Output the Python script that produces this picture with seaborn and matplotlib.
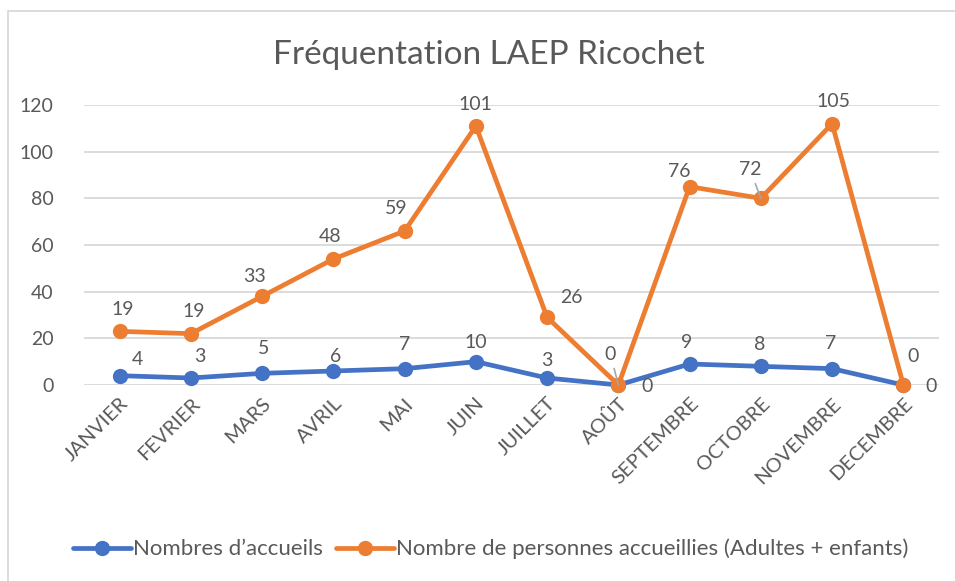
import matplotlib
matplotlib.use("Agg")
import matplotlib.pyplot as plt
import seaborn as sns
import pandas as pd
from matplotlib.patches import Rectangle

months = ["JANVIER", "FEVRIER", "MARS", "AVRIL", "MAI", "JUIN", "JUILLET",
          "AOÛT", "SEPTEMBRE", "OCTOBRE", "NOVEMBRE", "DECEMBRE"]
accueils = [4, 3, 5, 6, 7, 10, 3, 0, 9, 8, 7, 0]
personnes = [19, 19, 33, 48, 59, 101, 26, 0, 76, 72, 105, 0]
series_names = ["Nombres d’accueils",
                "Nombre de personnes accueillies (Adultes + enfants)"]
yticks = [0, 20, 40, 60, 80, 100, 120]

# stacked line chart (as in the Excel original)
stacked = [a + p for a, p in zip(accueils, personnes)]

df = pd.DataFrame({
    "x": list(range(len(months))) * 2,
    "value": accueils + stacked,
    "serie": [series_names[0]] * len(months) + [series_names[1]] * len(months),
})

sns.set_theme(style="white")
plt.rcParams["font.family"] = ["Lato", "DejaVu Sans"]
TXT = "#595959"
BLUE = "#4472C4"
ORANGE = "#ED7D31"

fig = plt.figure(figsize=(9.55, 5.81), dpi=100)
ax = fig.add_axes([84 / 955, 196 / 581, 855 / 955, 280 / 581])

sns.lineplot(data=df, x="x", y="value", hue="serie", palette=[BLUE, ORANGE],
             marker="o", markersize=11, markeredgewidth=0, linewidth=3.4,
             ax=ax, clip_on=False, zorder=3, legend=True)

ax.set_xlim(-0.5, len(months) - 0.5)
ax.set_ylim(0, 120)
ax.set_yticks(yticks)
ax.set_yticklabels([str(t) for t in yticks], fontsize=14, color=TXT)
ax.set_xticks(range(len(months)))
ax.set_xticklabels(months, rotation=45, ha="right", rotation_mode="anchor",
                   fontsize=14.5, color=TXT)
ax.tick_params(axis="x", length=0, pad=7)
ax.tick_params(axis="y", length=0, pad=22)
ax.set_xlabel("")
ax.set_ylabel("")
ax.grid(axis="y", color="#D9D9D9", linewidth=1.3)
ax.set_axisbelow(True)
for s in ax.spines.values():
    s.set_visible(False)

# data labels (pixel offsets)
blue_off = [(18, 16), (9, 21), (1, 25), (2, 14), (0, 24), (0, 19),
            (0, 17), (29, -2), (-3, 21), (-1, 22), (-1, 25), (28, -2)]
orange_off = [(3, 22), (3, 22), (-8, 20), (-3, 23), (-8, 23), (0, 22),
              (24, 20), (-8, 31), (-10, 15), (-11, 29), (1, 22), (10, 28)]
leader = {7, 9}
for i in range(len(months)):
    ax.annotate(str(accueils[i]), (i, accueils[i]), xytext=blue_off[i],
                textcoords="offset pixels", ha="center", va="center",
                fontsize=14, color=TXT, zorder=5)
    ap = None
    if i in leader:
        ap = dict(arrowstyle="-", color="#A6A6A6", lw=1.2, shrinkA=2, shrinkB=0)
    ax.annotate(str(personnes[i]), (i, stacked[i]), xytext=orange_off[i],
                textcoords="offset pixels", ha="center", va="center",
                fontsize=14, color=TXT, zorder=5, arrowprops=ap)

handles, labels = ax.get_legend_handles_labels()
ax.legend(handles, labels, loc="center", bbox_to_anchor=(491 / 955, 1 - 549 / 581),
          bbox_transform=fig.transFigure, ncol=2, frameon=False, fontsize=16,
          labelcolor=TXT, handlelength=2.6, handletextpad=0.1, columnspacing=0.6)

fig.text(489 / 955, 1 - 55 / 581, "Fréquentation LAEP Ricochet", ha="center",
         va="center", fontsize=24, color=TXT)

fig.patches.append(Rectangle((8 / 955, -0.05), 1.1, 1 - 11 / 581 + 0.05,
                             transform=fig.transFigure, fill=False,
                             edgecolor="#D9D9D9", linewidth=1.3))

fig.savefig("out.png", dpi=100)
